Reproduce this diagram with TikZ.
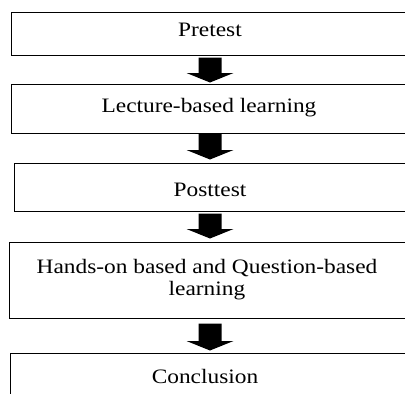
\documentclass[tikz,border=0pt]{standalone}
\usepackage{fontspec}
\setmainfont{Liberation Serif}[FakeStretch=1.14]
\begin{document}
\begin{tikzpicture}[x=1pt,y=-1pt,
  stage/.style={draw=black, line width=1pt, rectangle, inner sep=0pt},
  caption/.style={font=\fontsize{20.5}{22}\selectfont, anchor=base, inner sep=0pt, align=center},
  blockarrow/.style={fill=black, draw=none, to path={
    ([xshift=-11.5pt]\tikztostart) -- ([xshift=11.5pt]\tikztostart)
    -- ([xshift=11.5pt,yshift=9.5pt]\tikztotarget)
    -- ([xshift=23.5pt,yshift=9.5pt]\tikztotarget)
    -- (\tikztotarget)
    -- ([xshift=-23.5pt,yshift=9.5pt]\tikztotarget)
    -- ([xshift=-11.5pt,yshift=9.5pt]\tikztotarget) -- cycle}}]
  \useasboundingbox (0,0) rectangle (405,394);
  \clip (0,0) rectangle (405,394);

  % stage boxes (they run past the right and bottom edges)
  \node[stage, minimum width=398pt, minimum height=43pt] (b1) at (210,33.5) {};
  \node[stage, minimum width=398pt, minimum height=49pt] (b2) at (210,108.5) {};
  \node[stage, minimum width=392pt, minimum height=48pt] (b3) at (210,187) {};
  \node[stage, minimum width=401pt, minimum height=76pt] (b4) at (210,280) {};
  \node[stage, minimum width=400pt, minimum height=67pt] (b5) at (210,386.5) {};

  % stage texts (base anchor of a two-line text is its last line)
  \node[caption] (t1) at (210,36) {Pretest};
  \node[caption] (t2) at (209,112) {Lecture-based learning};
  \node[caption] (t3) at (210,196.7) {Posttest};
  \node[caption] (t4) at (207,295) {Hands-on based and Question-based\\learning};
  \node[caption] (t5) at (205,383) {Conclusion};

  % block arrows between the stages
  \path[blockarrow] ([yshift=-2pt]b1.south) to ([yshift=1pt]b2.north);
  \path[blockarrow] (b2.south) to ([yshift=3pt]b3.north);
  \path[blockarrow] ([yshift=-2pt]b3.south) to ([yshift=3pt]b4.north);
  \path[blockarrow] ([yshift=-5pt]b4.south) to ([yshift=2pt]b5.north);
\end{tikzpicture}
\end{document}
